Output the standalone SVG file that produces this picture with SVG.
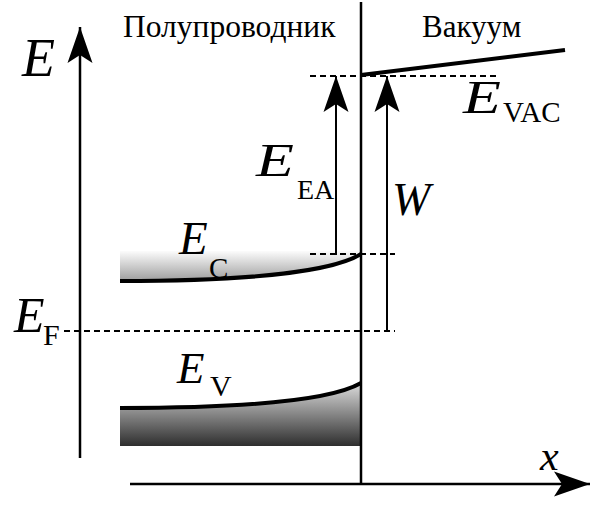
<svg xmlns="http://www.w3.org/2000/svg" width="600" height="510" viewBox="0 0 600 510">
<defs>
<marker id="arr" markerUnits="userSpaceOnUse" viewBox="-37 -13 38 26" refX="0" refY="0" markerWidth="38" markerHeight="26" orient="auto">
<path d="M0,0 L-36,-12.5 L-28,0 L-36,12.5 Z" fill="#000"/>
</marker>
<linearGradient id="gc" x1="0" y1="250" x2="0" y2="282" gradientUnits="userSpaceOnUse">
<stop offset="0" stop-color="#ffffff"/>
<stop offset="1" stop-color="#9a9a9a"/>
</linearGradient>
<linearGradient id="gv" x1="0" y1="383" x2="0" y2="446" gradientUnits="userSpaceOnUse">
<stop offset="0" stop-color="#dcdcdc"/>
<stop offset="1" stop-color="#2e2e2e"/>
</linearGradient>
</defs>
<style>
.t{font-family:"Liberation Serif","Times New Roman",serif;fill:#000}
.i{font-style:italic}
.ax{stroke:#000;stroke-width:2.5;fill:none}
.ar{stroke:#000;stroke-width:2;fill:none}
.band{stroke:#000;stroke-width:4;fill:none}
.dash{stroke:#000;stroke-width:2;stroke-dasharray:6,4;fill:none}
</style>
<g id="bands">
<path d="M120,251 L361,251 L361,254 C335,270 260,281 120,281 Z" fill="url(#gc)"/>
<path d="M120,408 C260,408 335,398 361,383 L361,446 L120,446 Z" fill="url(#gv)"/>
<path class="band" d="M120,281 C260,281 335,270 361,254"/>
<path class="band" d="M120,408 C260,408 335,398 361,383"/>
<path class="band" d="M361,75 L565,50" stroke-width="4.5"/>
</g>
<g id="connectors">
<line class="ax" x1="80" y1="458" x2="80" y2="27" marker-end="url(#arr)"/>
<line class="ax" x1="130" y1="484" x2="590" y2="484" marker-end="url(#arr)"/>
<line class="ax" x1="361" y1="2" x2="361" y2="484"/>
<line class="dash" x1="310" y1="76" x2="497" y2="76"/>
<line class="dash" x1="310" y1="254" x2="395" y2="254"/>
<line class="dash" x1="64" y1="331" x2="395" y2="331"/>
<line class="ar" x1="336" y1="255" x2="336" y2="76" marker-end="url(#arr)"/>
<line class="ar" x1="387" y1="331" x2="387" y2="76" marker-end="url(#arr)"/>
</g>
<g id="labels">
<text class="t" x="123" y="37" font-size="31.5">Полупроводник</text>
<text class="t" x="422" y="37" font-size="31">Вакуум</text>
<text class="t i" x="22" y="76" font-size="54">E</text>
<g id="evac"><text class="t i" font-size="46" transform="translate(463,113) scale(1.35,1)">E</text><text class="t" x="503" y="122" font-size="29">VAC</text></g>
<g id="eea"><text class="t i" font-size="46" transform="translate(256,176) scale(1.35,1)">E</text><text class="t" x="297" y="199" font-size="28">EA</text></g>
<text class="t i" x="392" y="215" font-size="46">W</text>
<g id="ec"><text class="t i" x="179" y="254" font-size="47">E</text><text class="t" x="209" y="278" font-size="29">C</text></g>
<g id="ef"><text class="t i" x="14" y="332" font-size="50">E</text><text class="t" x="43" y="345" font-size="30">F</text></g>
<g id="ev"><text class="t i" x="177" y="383" font-size="45">E</text><text class="t" x="210" y="396" font-size="30">V</text></g>
<text class="t i" x="540" y="470" font-size="42">x</text>
</g>
</svg>
